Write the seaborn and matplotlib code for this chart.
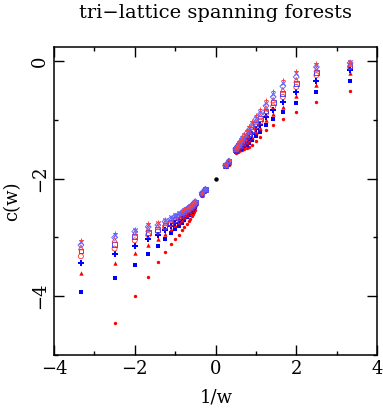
import numpy as np
import pandas as pd
import matplotlib
matplotlib.use("Agg")
import matplotlib.pyplot as plt
import seaborn as sns

# 1/w positions come from the w values used
w_values = [-0.3, -0.4, -0.5, -0.6, -0.7, -0.8, -0.9, -1.0, -1.1, -1.2, -1.3, -1.4,
            -1.5, -1.6, -1.7, -1.8, -1.9, -2.0, -3.0, -4.0,
            4.0, 3.0, 2.0, 1.9, 1.8, 1.7, 1.6, 1.5, 1.4, 1.3, 1.2, 1.1, 1.0, 0.9,
            0.8, 0.7, 0.6, 0.5, 0.4, 0.3]

# series from top (largest width) to bottom (smallest width)
c_s0 = [-3.04, -2.93, -2.85, -2.76, -2.73, -2.69, -2.65, -2.61, -2.58, -2.55, -2.52, -2.50,
        -2.48, -2.46, -2.44, -2.42, -2.40, -2.38, -2.24, -2.18,
        -1.76, -1.69, -1.48, -1.45, -1.42, -1.38, -1.34, -1.29, -1.24, -1.18, -1.11, -1.02,
        -0.92, -0.82, -0.67, -0.51, -0.32, -0.16, -0.04, -0.01]
c_s1 = [-3.08, -2.96, -2.87, -2.78, -2.75, -2.71, -2.66, -2.62, -2.59, -2.56, -2.53, -2.51,
        -2.49, -2.47, -2.45, -2.43, -2.41, -2.39, -2.24, -2.18,
        -1.76, -1.70, -1.49, -1.46, -1.43, -1.39, -1.35, -1.31, -1.26, -1.20, -1.14, -1.05,
        -0.96, -0.86, -0.71, -0.56, -0.37, -0.21, -0.06, -0.02]
c_s2 = [-3.13, -3.00, -2.90, -2.82, -2.79, -2.73, -2.69, -2.64, -2.61, -2.58, -2.54, -2.52,
        -2.50, -2.48, -2.46, -2.43, -2.41, -2.39, -2.24, -2.18,
        -1.77, -1.70, -1.49, -1.47, -1.44, -1.41, -1.37, -1.33, -1.28, -1.23, -1.17, -1.09,
        -0.99, -0.90, -0.76, -0.61, -0.43, -0.27, -0.10, -0.03]
c_s3 = [-3.17, -3.04, -2.93, -2.86, -2.82, -2.76, -2.71, -2.66, -2.63, -2.59, -2.56, -2.54,
        -2.51, -2.49, -2.47, -2.44, -2.42, -2.40, -2.25, -2.18,
        -1.77, -1.71, -1.50, -1.48, -1.45, -1.42, -1.39, -1.35, -1.31, -1.26, -1.20, -1.12,
        -1.03, -0.94, -0.80, -0.66, -0.49, -0.32, -0.14, -0.05]
c_s4 = [-3.23, -3.12, -2.98, -2.91, -2.86, -2.80, -2.74, -2.69, -2.65, -2.61, -2.58, -2.55,
        -2.53, -2.50, -2.48, -2.45, -2.43, -2.41, -2.25, -2.19,
        -1.78, -1.71, -1.51, -1.49, -1.46, -1.43, -1.40, -1.37, -1.33, -1.29, -1.23, -1.16,
        -1.07, -0.98, -0.85, -0.71, -0.55, -0.38, -0.19, -0.07]
c_s5 = [-3.32, -3.19, -3.05, -2.96, -2.90, -2.83, -2.77, -2.71, -2.67, -2.63, -2.60, -2.57,
        -2.54, -2.52, -2.49, -2.47, -2.44, -2.42, -2.26, -2.19,
        -1.78, -1.72, -1.52, -1.49, -1.47, -1.45, -1.42, -1.39, -1.35, -1.31, -1.26, -1.20,
        -1.11, -1.03, -0.89, -0.77, -0.61, -0.44, -0.24, -0.10]
c_s6 = [-3.44, -3.29, -3.15, -3.03, -2.96, -2.87, -2.81, -2.75, -2.70, -2.66, -2.62, -2.59,
        -2.56, -2.53, -2.51, -2.48, -2.46, -2.43, -2.26, -2.19,
        -1.79, -1.73, -1.52, -1.51, -1.49, -1.46, -1.44, -1.41, -1.38, -1.35, -1.30, -1.24,
        -1.16, -1.08, -0.95, -0.83, -0.69, -0.52, -0.33, -0.15]
c_s7 = [-3.61, -3.43, -3.27, -3.13, -3.03, -2.94, -2.86, -2.79, -2.74, -2.70, -2.65, -2.62,
        -2.59, -2.56, -2.53, -2.50, -2.47, -2.45, -2.27, -2.20,
        -1.79, -1.74, -1.53, -1.52, -1.50, -1.48, -1.46, -1.44, -1.41, -1.38, -1.34, -1.29,
        -1.21, -1.13, -1.01, -0.90, -0.78, -0.60, -0.41, -0.20]
c_s8 = [-3.93, -3.69, -3.47, -3.29, -3.14, -3.03, -2.93, -2.86, -2.80, -2.75, -2.70, -2.66,
        -2.62, -2.59, -2.56, -2.53, -2.50, -2.48, -2.28, -2.20,
        -1.80, -1.75, -1.55, -1.53, -1.52, -1.50, -1.49, -1.47, -1.45, -1.43, -1.40, -1.35,
        -1.28, -1.21, -1.09, -0.99, -0.87, -0.72, -0.53, -0.34]
c_s9 = [-5.30, -4.45, -3.99, -3.67, -3.42, -3.25, -3.12, -3.02, -2.95, -2.88, -2.82, -2.77,
        -2.72, -2.68, -2.64, -2.60, -2.57, -2.54, -2.30, -2.22,
        -1.81, -1.76, -1.56, -1.55, -1.54, -1.53, -1.52, -1.51, -1.50, -1.48, -1.46, -1.42,
        -1.36, -1.29, -1.18, -1.09, -0.98, -0.86, -0.69, -0.51]

# the single point at 1/w = 0
x_limit = [0.0]
c_limit = [-2.0]

title_text = "tri\u2212lattice spanning forests"
xlabel_text = "1/w"
ylabel_text = "c(w)"

series = [c_s9, c_s8, c_s7, c_s6, c_s5, c_s4, c_s3, c_s2, c_s1, c_s0]
# (color, marker, size, open)
styles = [
    ("#ff0000", "o", 6, False),
    ("#0000ff", "s", 6, False),
    ("#ff0000", "^", 10, False),
    ("#0000ff", "P", 14, False),
    ("#ff3030", "o", 13, True),
    ("#3030ff", "s", 12, True),
    ("#ff3030", "^", 12, True),
    ("#6060ff", "D", 9, True),
    ("#6060ff", "x", 10, True),
    ("#ff4040", "+", 12, True),
]

sns.set_style("ticks")
plt.rcParams["font.family"] = ["DejaVu Serif"]
plt.rcParams["axes.unicode_minus"] = True
plt.rcParams["text.color"] = "black"
plt.rcParams["xtick.color"] = "black"
plt.rcParams["ytick.color"] = "black"

fig = plt.figure(figsize=(3.83, 4.09), dpi=100)
ax = fig.add_axes([54 / 383, 1 - 355 / 409, (377 - 54) / 383, (355 - 47) / 409])

x_inv = 1.0 / np.array(w_values)
for vals, (col, mk, sz, is_open) in zip(series, styles):
    df = pd.DataFrame({"x": x_inv, "y": vals})
    if mk in ("x", "+"):
        sns.scatterplot(data=df, x="x", y="y", marker=mk, s=sz, color=col,
                        linewidth=0.7, ax=ax, legend=False)
    else:
        sns.scatterplot(data=df, x="x", y="y", marker=mk, s=sz, color=col,
                        linewidth=0.5 if is_open else 0, edgecolor=col, ax=ax,
                        legend=False)
    coll = ax.collections[-1]
    if is_open and mk not in ("x", "+"):
        coll.set_facecolor("none")
        coll.set_edgecolor(col)
        coll.set_linewidth(0.6)

sns.scatterplot(x=x_limit, y=c_limit, color="black", marker="o", s=10,
                linewidth=0, ax=ax, legend=False)

ax.set_xlim(-4, 4)
ax.set_ylim(-4.98, 0.24)
ax.set_xticks([-4, -2, 0, 2, 4])
ax.set_xticks([-3, -1, 1, 3], minor=True)
ax.set_yticks([-4, -2, 0])
ax.set_yticks([-5, -3, -1], minor=True)
ax.tick_params(which="both", direction="in", top=True, right=True, colors="black",
               labelsize=13, labelcolor="black")
ax.tick_params(which="major", length=7, width=1)
ax.tick_params(which="minor", length=3, width=1)
ax.tick_params(axis="y", labelrotation=90)
for lab in ax.get_yticklabels():
    lab.set_va("center")
for sp in ax.spines.values():
    sp.set_linewidth(1.1)
    sp.set_color("black")

ax.set_xlabel("")
ax.set_ylabel("")
fig.text(216 / 383, 1 - 397 / 409, xlabel_text, ha="center", va="center", fontsize=13,
         color="black")
fig.text(12 / 383, 1 - 201 / 409, ylabel_text, ha="center", va="center", fontsize=13,
         rotation=90, color="black")
fig.text(215.5 / 383, 1 - 13 / 409, title_text, ha="center", va="center", fontsize=14,
         color="black")

fig.savefig("out.png", dpi=100)
